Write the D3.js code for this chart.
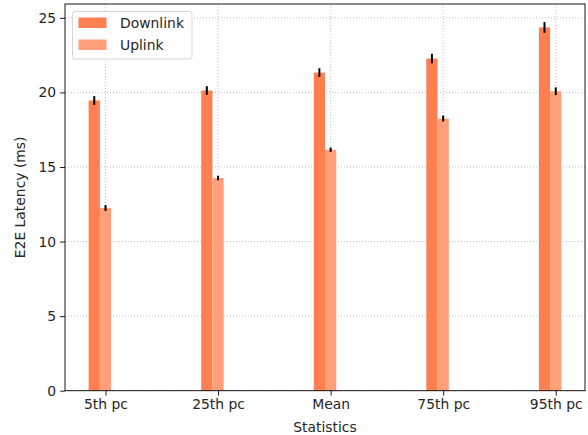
<!DOCTYPE html>
<html><head><meta charset="utf-8">
<script src="https://cdn.jsdelivr.net/npm/d3@7"></script>
<style>body{margin:0;background:#fff}svg{display:block;font-family:"DejaVu Sans",sans-serif}</style>
</head><body><svg id="c" width="588" height="435"></svg>
<script>
const categories = ["5th pc","25th pc","Mean","75th pc","95th pc"];
const downlink = [19.46, 20.13, 21.33, 22.27, 24.36];
const downlinkErr = [0.29, 0.29, 0.29, 0.32, 0.36];
const uplink = [12.25, 14.26, 16.16, 18.25, 20.08];
const uplinkErr = [0.2, 0.15, 0.15, 0.2, 0.26];
const yTicks = [0,5,10,15,20,25];
const seriesNames = ["Downlink","Uplink"];
const colors = ["#ff7f50","#ffa07a"];

const L=65,R=585,T=4,B=390.7;
const FS=13.9;
const svg=d3.select("#c");
const x=d3.scaleLinear().domain([-0.36,4.26]).range([L,R]);
const y=d3.scaleLinear().domain([0,25.93]).range([B,T]);
const bw=0.1;

// grid
const g=svg.append("g");
categories.forEach((c,i)=>g.append("line").attr("x1",x(i)).attr("x2",x(i)).attr("y1",T).attr("y2",B)
  .attr("stroke","#b0b0b0").attr("stroke-width",0.8).attr("stroke-dasharray","1,2"));
yTicks.forEach(t=>g.append("line").attr("x1",L).attr("x2",R).attr("y1",y(t)).attr("y2",y(t))
  .attr("stroke","#b0b0b0").attr("stroke-width",0.8).attr("stroke-dasharray","1,2"));

const series=[{v:downlink,e:downlinkErr,off:-bw},{v:uplink,e:uplinkErr,off:0}];
series.forEach((s,si)=>{
  svg.append("g").selectAll("rect").data(s.v).join("rect")
    .attr("x",(d,i)=>x(i+s.off-bw/2)).attr("width",x(bw)-x(0))
    .attr("y",d=>y(d)).attr("height",d=>B-y(d)).attr("fill",colors[si]);
});
series.forEach((s,si)=>{
  svg.append("g").selectAll("line").data(s.v).join("line")
    .attr("x1",(d,i)=>x(i+s.off)).attr("x2",(d,i)=>x(i+s.off))
    .attr("y1",(d,i)=>y(d-s.e[i])).attr("y2",(d,i)=>y(d+s.e[i]))
    .attr("stroke","#000").attr("stroke-width",2);
});

// axes
const xa=svg.append("g").attr("transform",`translate(0,${B})`)
  .call(d3.axisBottom(x).tickValues(d3.range(categories.length)).tickFormat(i=>categories[i]).tickSize(4.9).tickPadding(4));
const ya=svg.append("g").attr("transform",`translate(${L},0)`)
  .call(d3.axisLeft(y).tickValues(yTicks).tickSize(4.9).tickPadding(4));
[xa,ya].forEach(a=>{a.select(".domain").remove();a.selectAll("text").attr("font-size",FS).attr("fill","#262626").attr("font-family","DejaVu Sans");a.selectAll("line").attr("stroke","#000").attr("stroke-width",0.9);});
svg.append("rect").attr("x",L).attr("y",T).attr("width",R-L).attr("height",B-T).attr("fill","none").attr("stroke","#000").attr("stroke-width",0.9);

svg.append("text").attr("x",(L+R)/2).attr("y",432).attr("text-anchor","middle").attr("font-size",FS).attr("fill","#262626").text("Statistics");
svg.append("text").attr("transform",`translate(25,${(T+B)/2}) rotate(-90)`).attr("text-anchor","middle").attr("font-size",FS).attr("fill","#262626").text("E2E Latency (ms)");

// legend
const lg=svg.append("g");
lg.append("rect").attr("x",72.5).attr("y",11.5).attr("width",119.5).attr("height",47.5).attr("rx",2.5)
  .attr("fill","#fff").attr("fill-opacity",0.8).attr("stroke","#d5d5d5").attr("stroke-width",1);
seriesNames.forEach((n,i)=>{
  lg.append("rect").attr("x",78.5).attr("y",17.5+i*22).attr("width",28).attr("height",10.5).attr("fill",colors[i]);
  lg.append("text").attr("x",120).attr("y",27.8+i*22).attr("font-size",FS).attr("fill","#262626").text(n);
});
</script></body></html>
